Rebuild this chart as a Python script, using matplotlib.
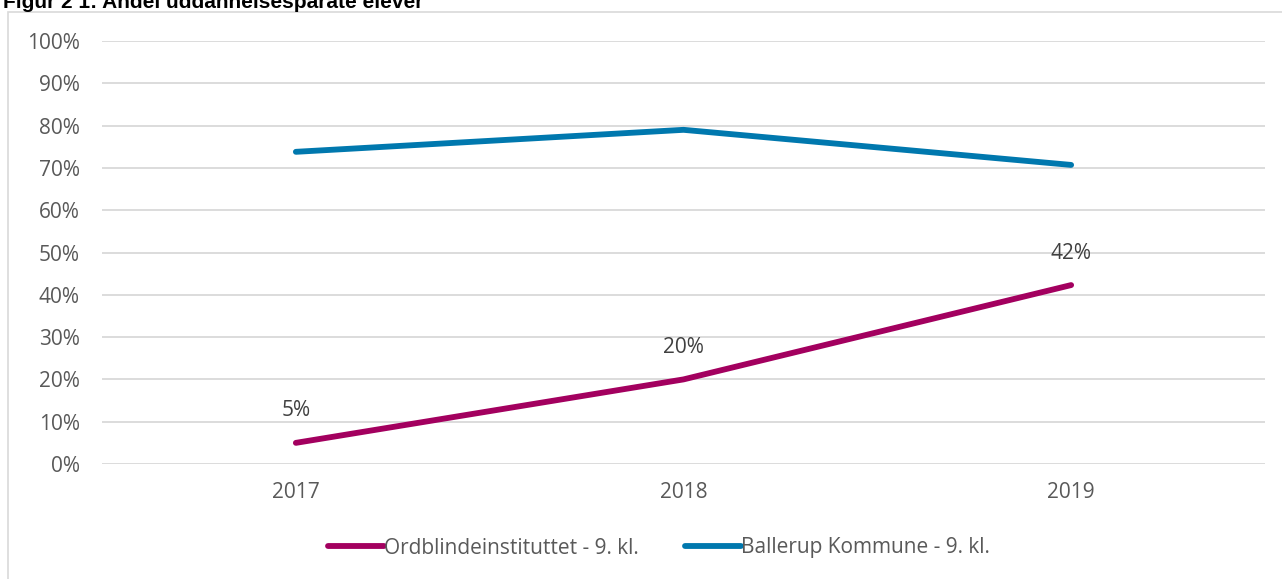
import numpy as np
import matplotlib.pyplot as plt
from matplotlib.patches import Rectangle

# Dados
anos = ['2017', '2018', '2019']
ordblinde = [0.05, 0.20, 0.423]
ballerup = [0.738, 0.79, 0.707]
rotulos = ['5%', '20%', '42%']

cor_ordblinde = '#A3005F'
cor_ballerup = '#0078AE'
cor_texto = '#595959'
cor_grade = '#D9D9D9'

plt.rcParams['font.family'] = ['Open Sans', 'DejaVu Sans']
fs = 15

fig = plt.figure(figsize=(12.82, 5.79), dpi=100)
ax = fig.add_axes([0.0796, 0.1986, 0.9071, 0.7306])

# moldura do grafico
fig.patches.append(Rectangle((8 / 1282, -0.01), 1.0, 1 - 12 / 579 + 0.01,
                             transform=fig.transFigure, fill=False,
                             edgecolor=cor_grade, linewidth=1.2))

# titulo (cortado no topo, como na referencia)
fig.text(0.002, 1 - 8 / 579, 'Figur 2 1: Andel uddannelsesparate elever',
         fontsize=15, fontweight='bold', color='black',
         family=['Liberation Sans', 'DejaVu Sans'], va='baseline', ha='left')

x = np.arange(len(anos))
ax.plot(x, ordblinde, color=cor_ordblinde, linewidth=4.2, solid_capstyle='round',
        label='Ordblindeinstituttet - 9. kl.')
ax.plot(x, ballerup, color=cor_ballerup, linewidth=4.2, solid_capstyle='round',
        label='Ballerup Kommune - 9. kl.')

for xi, yi, txt in zip(x, ordblinde, rotulos):
    ax.annotate(txt, (xi, yi), xytext=(0, 23), textcoords='offset points',
                ha='center', va='center', fontsize=fs, color='#404040')

ax.set_xlim(-0.5, 2.5)
ax.set_ylim(0, 1)
ax.set_xticks(x)
ax.set_xticklabels(anos)
ax.set_yticks(np.arange(0, 1.01, 0.1))
ax.set_yticklabels([f'{int(round(v * 100))}%' for v in np.arange(0, 1.01, 0.1)])
ax.tick_params(axis='both', length=0, labelsize=fs, labelcolor=cor_texto)
ax.tick_params(axis='x', pad=13)
ax.tick_params(axis='y', pad=16)
ax.grid(axis='y', color=cor_grade, linewidth=1.3)
ax.set_axisbelow(True)
for s in ax.spines.values():
    s.set_visible(False)

leg = fig.legend(loc='center', bbox_to_anchor=(0.514, 1 - 548 / 579), ncol=2,
                 frameon=False, fontsize=fs, handlelength=2.7, handletextpad=0.0,
                 columnspacing=2.2)
for t in leg.get_texts():
    t.set_color(cor_texto)

fig.savefig('out.png', dpi=100)
